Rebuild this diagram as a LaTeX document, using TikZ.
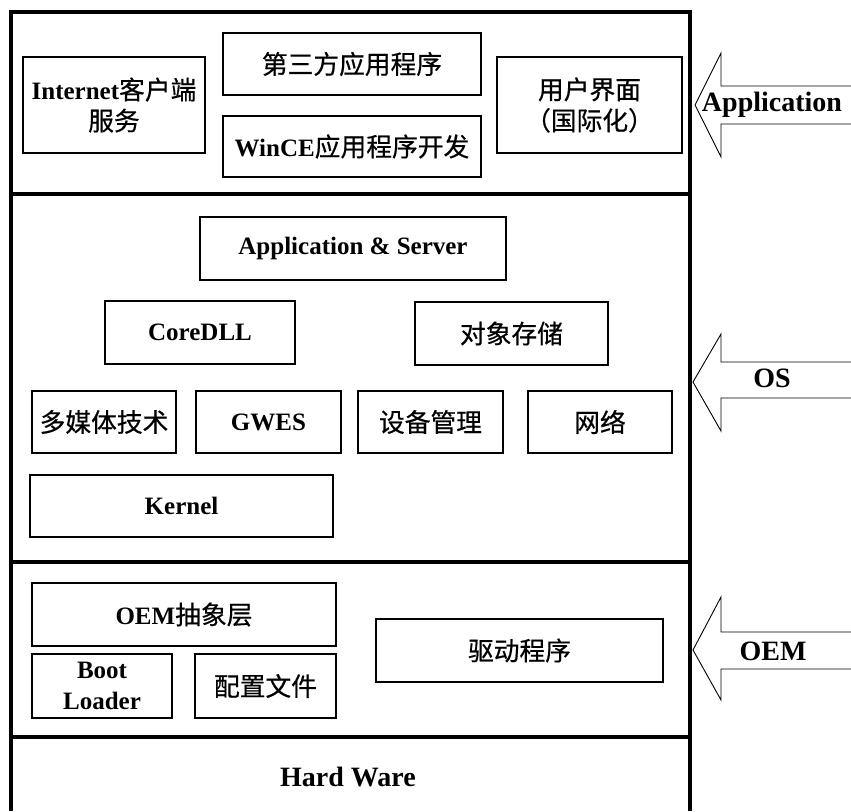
\documentclass[tikz,border=0pt]{standalone}
\usepackage{fontspec}
\setmainfont{Liberation Serif}
\newfontfamily\cjkfont[Scale=1.03,RawFeature={embolden=0.6}]{Noto Sans CJK SC}
\newcommand\zhtext[1]{{\mdseries\cjkfont #1}}
\begin{document}
\begin{tikzpicture}[x=1pt,y=-1pt,
  frame/.style={line width=3.5pt},
  blk/.style={draw, line width=1.6pt, inner sep=0pt, align=center,
    font=\fontsize{25}{31}\selectfont\bfseries},
  arrowshape/.style={line width=0.9pt, line join=miter},
  side/.style={inner sep=0pt, font=\fontsize{28}{32}\selectfont\bfseries}]
\useasboundingbox (0,0) rectangle (851,811);

% outer frame and layer separators
\draw[frame] (11,811) -- (11,12) -- (690,12) -- (690,811);
\draw[frame] (11,194) -- (690,194);
\draw[frame] (11,562) -- (690,562);
\draw[frame] (11,737) -- (690,737);

% Application layer
\node[blk, minimum width=182pt, minimum height=96pt] (inet) at (114,105) {Internet\zhtext{客户端}\\\zhtext{服务}};
\node[blk, minimum width=258pt, minimum height=62pt] (third) at (352,64) {\zhtext{第三方应用程序}};
\node[blk, minimum width=258pt, minimum height=61pt] (wince) at (352,146.5) {WinCE\zhtext{应用程序开发}};
\node[blk, minimum width=185pt, minimum height=96pt] (ui) at (589.5,105) {\zhtext{用户界面}\\\zhtext{（国际化）}};

% OS layer
\node[blk, minimum width=306pt, minimum height=63pt] (appsrv) at (353,248.5) {Application \& Server};
\node[blk, minimum width=190pt, minimum height=63pt] (coredll) at (200,332.5) {CoreDLL};
\node[blk, minimum width=193pt, minimum height=63pt] (store) at (511.5,333.5) {\zhtext{对象存储}};
\node[blk, minimum width=144pt, minimum height=62pt] (mm) at (104,422) {\zhtext{多媒体技术}};
\node[blk, minimum width=145pt, minimum height=62pt] (gwes) at (268.5,422) {GWES};
\node[blk, minimum width=145pt, minimum height=62pt] (dev) at (430.5,422) {\zhtext{设备管理}};
\node[blk, minimum width=144pt, minimum height=62pt] (net) at (600,422) {\zhtext{网络}};
\node[blk, minimum width=303pt, minimum height=62pt] (kernel) at (181.5,506) {Kernel};

% OEM layer
\node[blk, minimum width=304pt, minimum height=63pt] (oal) at (184,614.5) {OEM\zhtext{抽象层}};
\node[blk, minimum width=140pt, minimum height=64pt] (boot) at (102,686) {Boot\\Loader};
\node[blk, minimum width=141pt, minimum height=64pt] (config) at (265.5,686) {\zhtext{配置文件}};
\node[blk, minimum width=287pt, minimum height=63pt] (driver) at (519.5,650.5) {\zhtext{驱动程序}};

% Hardware
\node[side] (hw) at (348,777) {Hard Ware};

% side block arrows
\draw[arrowshape] (851,86) -- (721,86) -- (721,53) -- (695,105) -- (721,157) -- (721,124) -- (851,124);
\draw[arrowshape] (851,362) -- (721,362) -- (721,334) -- (693,382) -- (721,431) -- (721,398) -- (851,398);
\draw[arrowshape] (851,632) -- (721,632) -- (721,597) -- (693,650) -- (721,700) -- (721,669) -- (851,669);
\node[side] (lapp) at (772,105) {Application};
\node[side] (los) at (772,378) {OS};
\node[side] (loem) at (773,651) {OEM};
\end{tikzpicture}
\end{document}
